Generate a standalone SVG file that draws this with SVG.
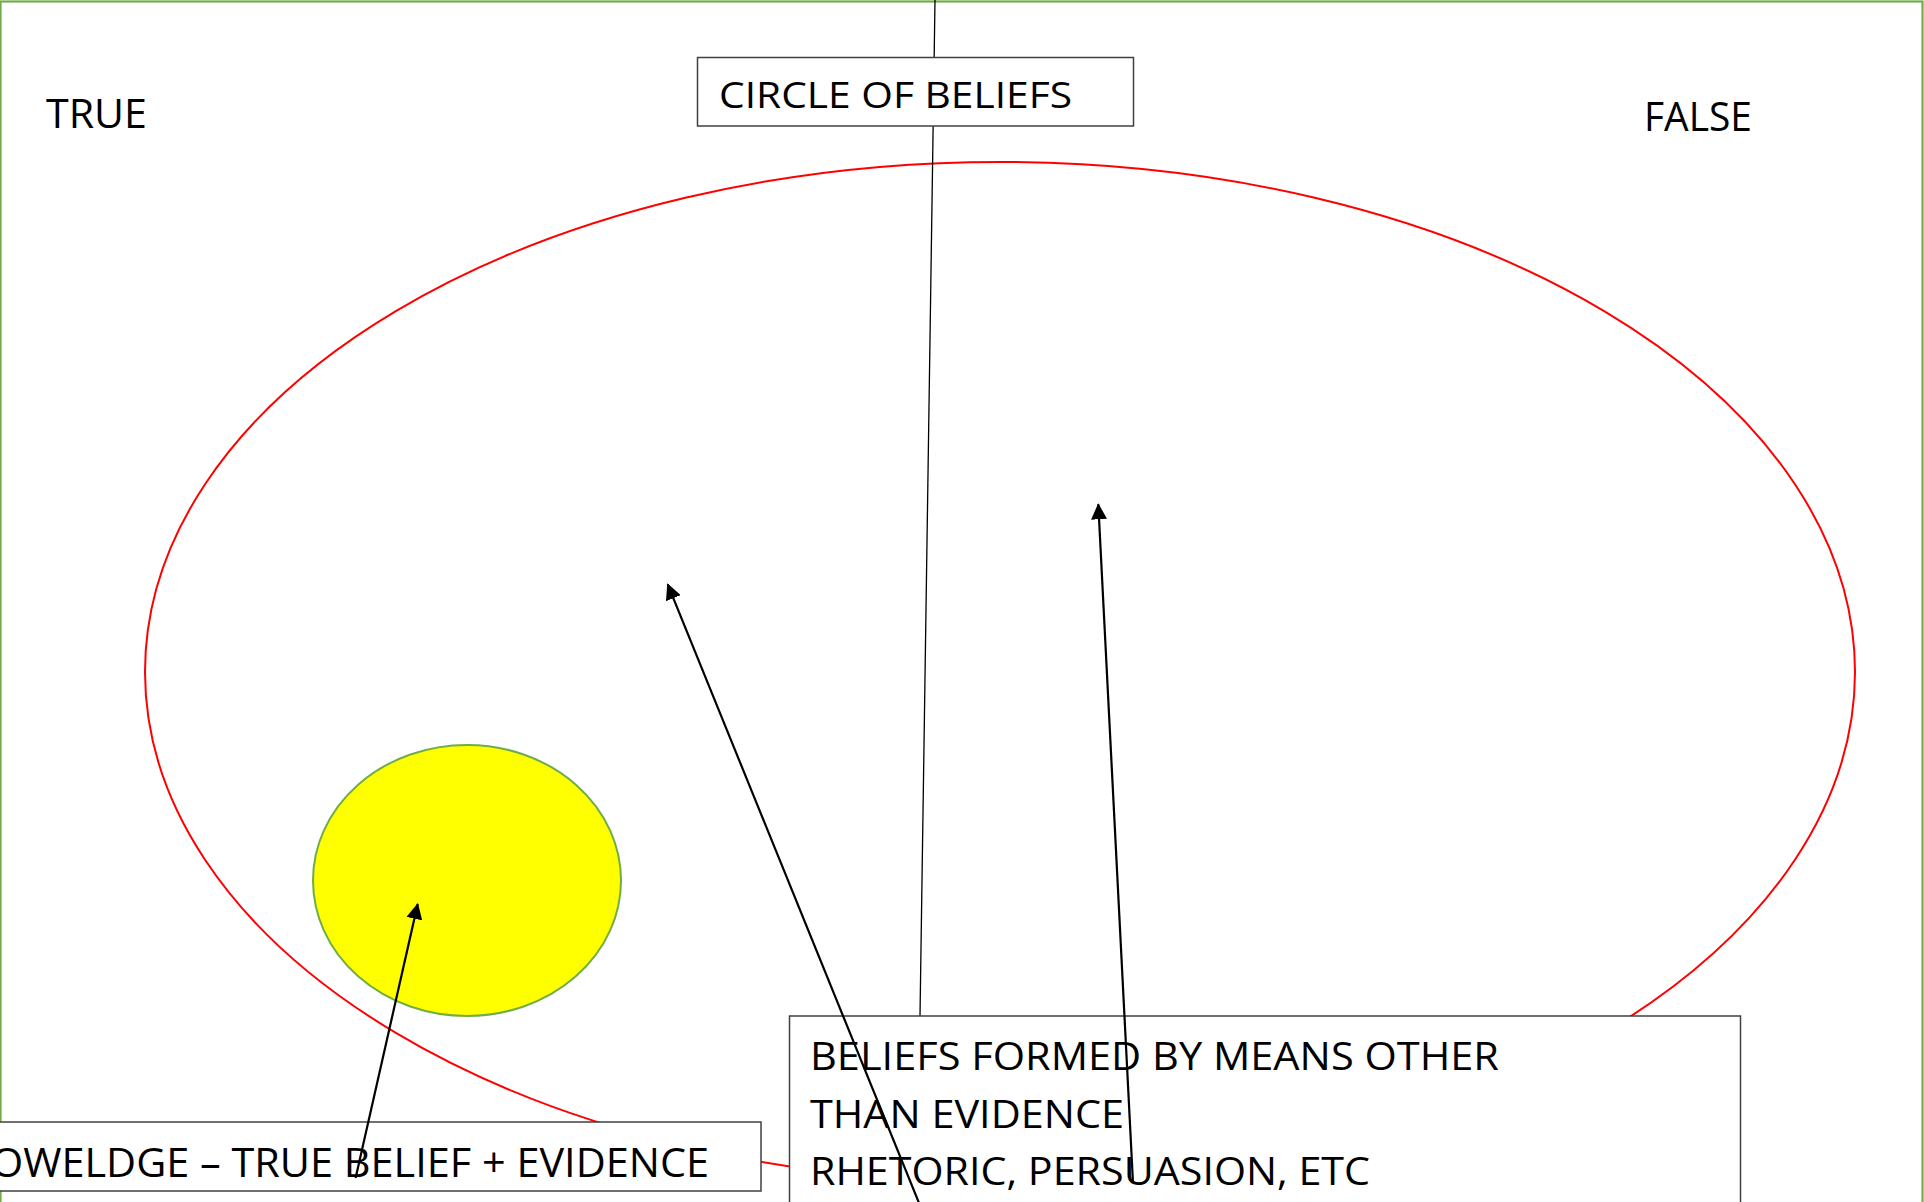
<svg xmlns="http://www.w3.org/2000/svg" width="1924" height="1202" viewBox="0 0 1924 1202">
<style>
.t{font-family:"Open Sans","Liberation Sans",sans-serif;fill:#000}
.box{fill:#fff;stroke:#404040;stroke-width:1.5}
.arr{stroke:#000;stroke-width:2.2;fill:none;marker-end:url(#ah)}
</style>
<defs>
<marker id="ah" markerUnits="userSpaceOnUse" markerWidth="16" markerHeight="16" viewBox="0 0 16 16" refX="15" refY="8" orient="auto">
<path d="M0,0 L16,8 L0,16 Z" fill="#000"/>
</marker>
</defs>
<rect width="1924" height="1202" fill="#fff"/>
<rect x="0.5" y="1.5" width="1922" height="1300" fill="none" stroke="#70AD47" stroke-width="2.2"/>
<g id="labels">
<text class="t" x="46" y="128" font-size="41" textLength="101" lengthAdjust="spacingAndGlyphs">TRUE</text>
<text class="t" x="1644" y="131" font-size="41" textLength="108" lengthAdjust="spacingAndGlyphs">FALSE</text>
</g>
<g id="circle-of-beliefs-ellipse">
<ellipse cx="1000" cy="672" rx="855" ry="510" fill="none" stroke="#FF0000" stroke-width="2"/>
</g>
<g id="knowledge-circle">
<ellipse cx="467" cy="880.5" rx="154" ry="135.5" fill="#FFFF00" stroke="#70AD47" stroke-width="2"/>
</g>
<g id="connectors">
<line x1="935" y1="0" x2="920" y2="1016" stroke="#000" stroke-width="1.3"/>
</g>
<g id="circle-of-beliefs-label">
<rect class="box" x="697.5" y="57.5" width="436" height="68.5"/>
<text class="t" x="719" y="108" font-size="37" textLength="353" lengthAdjust="spacingAndGlyphs">CIRCLE OF BELIEFS</text>
</g>
<g id="beliefs-other-box">
<rect class="box" x="789.5" y="1016" width="951" height="220"/>
<text class="t" x="810" y="1070" font-size="38" textLength="689" lengthAdjust="spacingAndGlyphs">BELIEFS FORMED BY MEANS OTHER</text>
<text class="t" x="810" y="1128" font-size="38" textLength="314" lengthAdjust="spacingAndGlyphs">THAN EVIDENCE</text>
<text class="t" x="810" y="1185" font-size="38" textLength="560" lengthAdjust="spacingAndGlyphs">RHETORIC, PERSUASION, ETC</text>
</g>
<g id="knowledge-box">
<rect class="box" x="-10" y="1122" width="771" height="69"/>
<text class="t" x="-9" y="1177" font-size="40" textLength="718" lengthAdjust="spacingAndGlyphs">OWELDGE – TRUE BELIEF + EVIDENCE</text>
</g>
<g id="arrows">
<line class="arr" x1="930" y1="1230" x2="667.7" y2="584.3"/>
<line class="arr" x1="1133" y1="1183" x2="1098.3" y2="504.3"/>
<line class="arr" x1="355.6" y1="1178" x2="417.7" y2="904"/>
</g>
</svg>
